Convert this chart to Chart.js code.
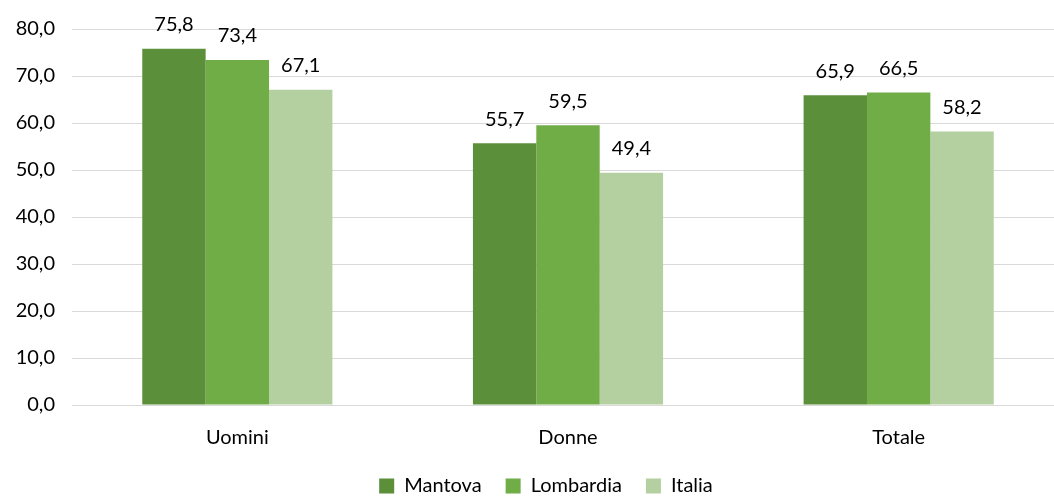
<!DOCTYPE html>
<html>
<head>
<meta charset="utf-8">
<script src="https://cdn.jsdelivr.net/npm/chart.js@4"></script>
<style>
  html, body { margin:0; padding:0; background:#fff; overflow:hidden; }
  #wrap { position:relative; width:1066px; height:496px; }
</style>
</head>
<body>
<div id="wrap"><canvas id="chart"></canvas></div>
<script>
// Tasso di occupazione per genere
const categorie = ['Uomini', 'Donne', 'Totale'];
const mantova   = [75.8, 55.7, 65.9];
const lombardia = [73.4, 59.5, 66.5];
const italia    = [67.1, 49.4, 58.2];

const COL = ['#5b8f3a', '#70ad47', '#b4d0a0'];
const FONT = 'Lato, "Open Sans", sans-serif';
const fmt = v => v.toFixed(1).replace('.', ',');

// etichette sopra le barre
const valoriPlugin = {
  id: 'valori',
  afterDatasetsDraw(chart) {
    const ctx = chart.ctx;
    ctx.save();
    ctx.font = '20px ' + FONT;
    ctx.fillStyle = '#000';
    ctx.textAlign = 'center';
    ctx.textBaseline = 'middle';
    chart.data.datasets.forEach((ds, i) => {
      chart.getDatasetMeta(i).data.forEach((bar, j) => {
        ctx.fillText(fmt(ds.data[j]), bar.x, bar.y - 24);
      });
    });
    ctx.restore();
  }
};

// legenda: spostata a destra e più vicina alle etichette
const legendaShift = {
  id: 'legendaShift',
  afterLayout(chart) {
    const lg = chart.legend;
    lg.left += 10; lg.right += 10;
    lg.top -= 11; lg.bottom -= 11;
  }
};

new Chart(document.getElementById('chart'), {
  type: 'bar',
  data: {
    labels: categorie,
    datasets: [
      { label: 'Mantova',   data: mantova,   backgroundColor: COL[0] },
      { label: 'Lombardia', data: lombardia, backgroundColor: COL[1] },
      { label: 'Italia',    data: italia,    backgroundColor: COL[2] },
    ]
  },
  options: {
    responsive: true, maintainAspectRatio: false,
    animation: false,
    datasets: { bar: { categoryPercentage: 0.575, barPercentage: 1.0, borderWidth: 0 } },
    layout: { padding: { left: 8, right: 2, top: 9, bottom: -21 } },
    plugins: {
      legend: {
        position: 'bottom',
        labels: { color: '#000', font: { family: FONT, size: 20 }, boxWidth: 15, boxHeight: 15, padding: 24 }
      },
      tooltip: { enabled: false }
    },
    scales: {
      x: {
        grid: { display: false },
        border: { color: '#d9d9d9', width: 1 },
        ticks: { color: '#000', font: { family: FONT, size: 20 }, padding: 13 }
      },
      y: {
        min: 0, max: 80,
        afterFit: s => { s.width = 64; },
        grid: { color: '#d9d9d9', drawTicks: false },
        border: { display: false },
        ticks: { stepSize: 10, color: '#000', font: { family: FONT, size: 20 }, padding: 17, callback: v => fmt(v) }
      }
    }
  },
  plugins: [valoriPlugin, legendaShift]
});
</script>
</body>
</html>
